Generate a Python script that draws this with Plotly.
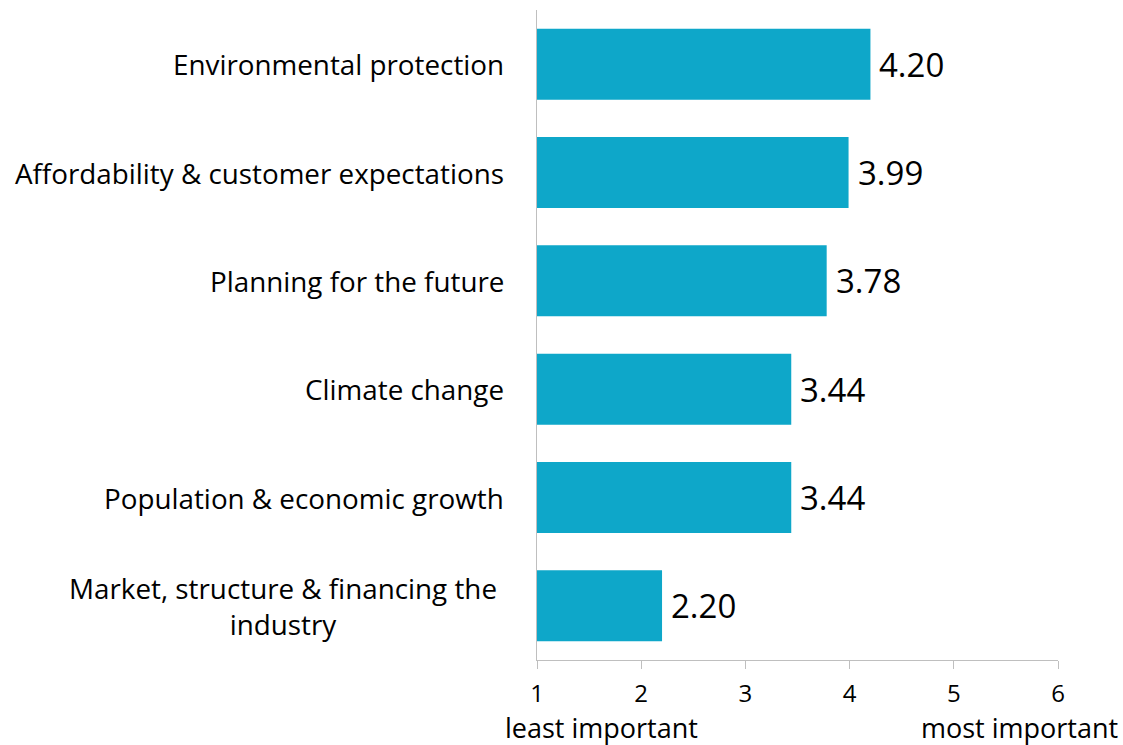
import plotly.graph_objects as go

categories = ["Environmental protection",
              "Affordability & customer expectations",
              "Planning for the future",
              "Climate change",
              "Population & economic growth",
              "Market, structure & financing the<br>industry"]
values = [4.20, 3.99, 3.78, 3.44, 3.44, 2.20]
tick_vals = [1, 2, 3, 4, 5, 6]
tick_text = ["1", "2", "3", "4", "5", "6"]
axis_end_labels = ["least important", "most important"]

FONT = "'Open Sans', sans-serif"
BAR_COLOR = "#0ea7c9"
AXIS_COLOR = "#bfbfbf"

ids = list(range(len(categories)))

fig = go.Figure(go.Bar(
    x=[v - 1 for v in values],
    base=1,
    y=ids,
    orientation="h",
    marker=dict(color=BAR_COLOR, line=dict(width=0)),
    width=0.655,
    hoverinfo="skip",
))

annotations = []
for i, c in zip(ids, categories):
    wrapped = "<br>" in c
    annotations.append(dict(
        x=0, xref="paper", y=i, yref="y", text=c, showarrow=False,
        xanchor="right", yanchor="middle", align="center",
        xshift=-38 if wrapped else -31,
        font=dict(family=FONT, size=27.8, color="black")))

for i, v in zip(ids, values):
    annotations.append(dict(
        x=v, xref="x", y=i, yref="y", text=f"{v:.2f}", showarrow=False,
        xanchor="left", yanchor="middle", xshift=7,
        font=dict(family=FONT, size=33, color="black")))

annotations.append(dict(x=1, xref="x", y=0, yref="paper", text=axis_end_labels[0],
                        showarrow=False, xanchor="left", yanchor="middle", xshift=-34, yshift=-67,
                        font=dict(family=FONT, size=27, color="black")))
annotations.append(dict(x=6, xref="x", y=0, yref="paper", text=axis_end_labels[1],
                        showarrow=False, xanchor="right", yanchor="middle", xshift=62, yshift=-67,
                        font=dict(family=FONT, size=27, color="black")))

fig.update_layout(
    width=1123, height=745,
    margin=dict(l=537, r=65, t=10, b=85),
    paper_bgcolor="white", plot_bgcolor="white",
    showlegend=False,
    annotations=annotations,
    xaxis=dict(range=[1, 6], tickvals=tick_vals, ticktext=tick_text,
               showgrid=False, zeroline=False, showline=True, linecolor=AXIS_COLOR, linewidth=1,
               ticks="outside", ticklen=8, tickcolor=AXIS_COLOR, ticklabelstandoff=4,
               tickfont=dict(family=FONT, size=24, color="black")),
    yaxis=dict(range=[len(categories) - 0.5, -0.5], showticklabels=False,
               showgrid=False, zeroline=False, showline=True, linecolor=AXIS_COLOR, linewidth=1,
               ticks=""),
)

fig.write_html("out.html")
